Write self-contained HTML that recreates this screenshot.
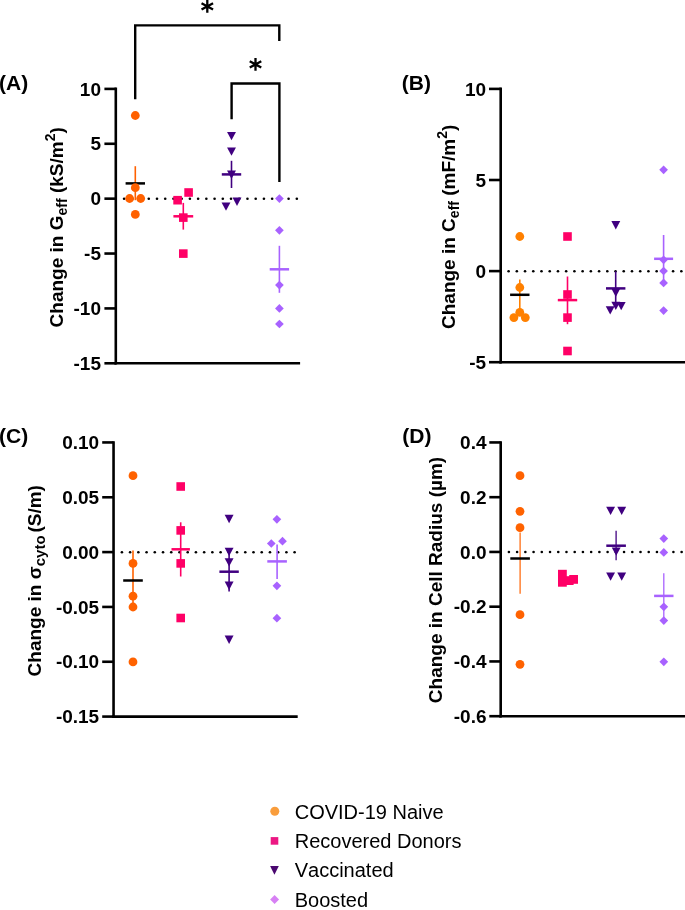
<!DOCTYPE html>
<html><head><meta charset="utf-8"><style>
html,body{margin:0;padding:0;background:#fff;}
svg{display:block;font-family:"Liberation Sans",sans-serif;will-change:transform;font-kerning:none;}
</style></head><body>
<svg width="685" height="910" viewBox="0 0 685 910">
<rect width="685" height="910" fill="#fff"/>
<line x1="115.80" y1="87.60" x2="115.80" y2="364.60" stroke="#000" stroke-width="2.6" stroke-linecap="butt"/>
<line x1="114.50" y1="363.30" x2="300.10" y2="363.30" stroke="#000" stroke-width="2.6" stroke-linecap="butt"/>
<line x1="104.40" y1="88.90" x2="115.80" y2="88.90" stroke="#000" stroke-width="2.6" stroke-linecap="butt"/>
<text x="101.00" y="95.60" font-size="19" font-weight="bold" text-anchor="end" >10</text>
<line x1="104.40" y1="143.78" x2="115.80" y2="143.78" stroke="#000" stroke-width="2.6" stroke-linecap="butt"/>
<text x="101.00" y="150.48" font-size="19" font-weight="bold" text-anchor="end" >5</text>
<line x1="104.40" y1="198.66" x2="115.80" y2="198.66" stroke="#000" stroke-width="2.6" stroke-linecap="butt"/>
<text x="101.00" y="205.36" font-size="19" font-weight="bold" text-anchor="end" >0</text>
<line x1="104.40" y1="253.54" x2="115.80" y2="253.54" stroke="#000" stroke-width="2.6" stroke-linecap="butt"/>
<text x="101.00" y="260.24" font-size="19" font-weight="bold" text-anchor="end" >-5</text>
<line x1="104.40" y1="308.42" x2="115.80" y2="308.42" stroke="#000" stroke-width="2.6" stroke-linecap="butt"/>
<text x="101.00" y="315.12" font-size="19" font-weight="bold" text-anchor="end" >-10</text>
<line x1="104.40" y1="363.30" x2="115.80" y2="363.30" stroke="#000" stroke-width="2.6" stroke-linecap="butt"/>
<text x="101.00" y="370.00" font-size="19" font-weight="bold" text-anchor="end" >-15</text>
<circle cx="124.10" cy="198.70" r="1.3" fill="#000"/>
<circle cx="132.32" cy="198.70" r="1.3" fill="#000"/>
<circle cx="140.55" cy="198.70" r="1.3" fill="#000"/>
<circle cx="148.77" cy="198.70" r="1.3" fill="#000"/>
<circle cx="157.00" cy="198.70" r="1.3" fill="#000"/>
<circle cx="165.22" cy="198.70" r="1.3" fill="#000"/>
<circle cx="173.45" cy="198.70" r="1.3" fill="#000"/>
<circle cx="181.67" cy="198.70" r="1.3" fill="#000"/>
<circle cx="189.90" cy="198.70" r="1.3" fill="#000"/>
<circle cx="198.12" cy="198.70" r="1.3" fill="#000"/>
<circle cx="206.35" cy="198.70" r="1.3" fill="#000"/>
<circle cx="214.57" cy="198.70" r="1.3" fill="#000"/>
<circle cx="222.80" cy="198.70" r="1.3" fill="#000"/>
<circle cx="231.02" cy="198.70" r="1.3" fill="#000"/>
<circle cx="239.25" cy="198.70" r="1.3" fill="#000"/>
<circle cx="247.47" cy="198.70" r="1.3" fill="#000"/>
<circle cx="255.70" cy="198.70" r="1.3" fill="#000"/>
<circle cx="263.92" cy="198.70" r="1.3" fill="#000"/>
<circle cx="272.15" cy="198.70" r="1.3" fill="#000"/>
<circle cx="280.37" cy="198.70" r="1.3" fill="#000"/>
<circle cx="288.60" cy="198.70" r="1.3" fill="#000"/>
<circle cx="296.82" cy="198.70" r="1.3" fill="#000"/>
<line x1="135.30" y1="166.20" x2="135.30" y2="200.20" stroke="#ff6100" stroke-width="1.6" stroke-linecap="butt"/>
<line x1="125.60" y1="183.40" x2="145.00" y2="183.40" stroke="#000" stroke-width="2.5" stroke-linecap="butt"/>
<circle cx="135.30" cy="115.50" r="4.4" fill="#ff6100"/>
<circle cx="135.30" cy="187.70" r="4.4" fill="#ff6100"/>
<circle cx="129.60" cy="198.50" r="4.4" fill="#ff6100"/>
<circle cx="140.70" cy="198.50" r="4.4" fill="#ff6100"/>
<circle cx="135.30" cy="214.40" r="4.4" fill="#ff6100"/>
<rect x="184.30" y="188.20" width="8.6" height="8.6" fill="#ff0066"/>
<rect x="173.30" y="195.90" width="8.6" height="8.6" fill="#ff0066"/>
<rect x="179.00" y="213.30" width="8.6" height="8.6" fill="#ff0066"/>
<rect x="179.00" y="249.30" width="8.6" height="8.6" fill="#ff0066"/>
<line x1="183.30" y1="202.90" x2="183.30" y2="229.60" stroke="#ff0066" stroke-width="1.6" stroke-linecap="butt"/>
<line x1="173.40" y1="216.30" x2="193.20" y2="216.30" stroke="#ff0066" stroke-width="2.5" stroke-linecap="butt"/>
<path d="M227.05,131.90H235.95L231.50,140.30Z" fill="#400080"/>
<path d="M227.05,147.40H235.95L231.50,155.80Z" fill="#400080"/>
<path d="M227.05,170.60H235.95L231.50,179.00Z" fill="#400080"/>
<path d="M232.55,197.50H241.45L237.00,205.90Z" fill="#400080"/>
<path d="M221.55,202.40H230.45L226.00,210.80Z" fill="#400080"/>
<line x1="231.50" y1="160.80" x2="231.50" y2="188.00" stroke="#400080" stroke-width="1.6" stroke-linecap="butt"/>
<line x1="221.80" y1="174.40" x2="241.20" y2="174.40" stroke="#400080" stroke-width="2.5" stroke-linecap="butt"/>
<path d="M279.40,194.25L283.75,198.60L279.40,202.95L275.05,198.60Z" fill="#a862ff"/>
<path d="M279.40,225.95L283.75,230.30L279.40,234.65L275.05,230.30Z" fill="#a862ff"/>
<path d="M279.40,280.75L283.75,285.10L279.40,289.45L275.05,285.10Z" fill="#a862ff"/>
<path d="M279.40,304.05L283.75,308.40L279.40,312.75L275.05,308.40Z" fill="#a862ff"/>
<path d="M279.40,319.65L283.75,324.00L279.40,328.35L275.05,324.00Z" fill="#a862ff"/>
<line x1="279.40" y1="245.80" x2="279.40" y2="292.80" stroke="#a862ff" stroke-width="1.6" stroke-linecap="butt"/>
<line x1="269.70" y1="269.30" x2="289.10" y2="269.30" stroke="#a862ff" stroke-width="2.5" stroke-linecap="butt"/>
<path d="M135.2,99.3V25.4H279.3V40.9" fill="none" stroke="#000" stroke-width="2.4"/>
<path d="M231.6,119.2V83.5H279.4V181.9" fill="none" stroke="#000" stroke-width="2.4"/>
<path d="M207.30,0.00V12.70M201.53,3.15L213.07,9.55M201.53,9.55L213.07,3.15" stroke="#000" stroke-width="2.3" fill="none"/>
<path d="M255.50,58.05V70.75M249.73,61.20L261.27,67.60M249.73,67.60L261.27,61.20" stroke="#000" stroke-width="2.3" fill="none"/>
<text x="-0.90" y="90.00" font-size="21" font-weight="bold" text-anchor="start" >(A)</text>
<text transform="translate(63,327.4) rotate(-90)" font-size="19" font-weight="bold">Change in G<tspan font-size="14" dy="4.1">eff</tspan><tspan dy="-4.1"> (kS/m</tspan><tspan font-size="14" dy="-8.1">2</tspan><tspan dy="8.1">)</tspan></text>
<line x1="500.70" y1="87.60" x2="500.70" y2="363.50" stroke="#000" stroke-width="2.6" stroke-linecap="butt"/>
<line x1="499.40" y1="362.20" x2="685.00" y2="362.20" stroke="#000" stroke-width="2.6" stroke-linecap="butt"/>
<line x1="489.00" y1="88.90" x2="500.70" y2="88.90" stroke="#000" stroke-width="2.6" stroke-linecap="butt"/>
<text x="486.20" y="95.60" font-size="19" font-weight="bold" text-anchor="end" >10</text>
<line x1="489.00" y1="180.00" x2="500.70" y2="180.00" stroke="#000" stroke-width="2.6" stroke-linecap="butt"/>
<text x="486.20" y="186.70" font-size="19" font-weight="bold" text-anchor="end" >5</text>
<line x1="489.00" y1="271.10" x2="500.70" y2="271.10" stroke="#000" stroke-width="2.6" stroke-linecap="butt"/>
<text x="486.20" y="277.80" font-size="19" font-weight="bold" text-anchor="end" >0</text>
<line x1="489.00" y1="362.20" x2="500.70" y2="362.20" stroke="#000" stroke-width="2.6" stroke-linecap="butt"/>
<text x="486.20" y="368.90" font-size="19" font-weight="bold" text-anchor="end" >-5</text>
<circle cx="508.60" cy="271.20" r="1.3" fill="#000"/>
<circle cx="516.83" cy="271.20" r="1.3" fill="#000"/>
<circle cx="525.05" cy="271.20" r="1.3" fill="#000"/>
<circle cx="533.28" cy="271.20" r="1.3" fill="#000"/>
<circle cx="541.50" cy="271.20" r="1.3" fill="#000"/>
<circle cx="549.73" cy="271.20" r="1.3" fill="#000"/>
<circle cx="557.95" cy="271.20" r="1.3" fill="#000"/>
<circle cx="566.18" cy="271.20" r="1.3" fill="#000"/>
<circle cx="574.40" cy="271.20" r="1.3" fill="#000"/>
<circle cx="582.63" cy="271.20" r="1.3" fill="#000"/>
<circle cx="590.85" cy="271.20" r="1.3" fill="#000"/>
<circle cx="599.08" cy="271.20" r="1.3" fill="#000"/>
<circle cx="607.30" cy="271.20" r="1.3" fill="#000"/>
<circle cx="615.53" cy="271.20" r="1.3" fill="#000"/>
<circle cx="623.75" cy="271.20" r="1.3" fill="#000"/>
<circle cx="631.98" cy="271.20" r="1.3" fill="#000"/>
<circle cx="640.20" cy="271.20" r="1.3" fill="#000"/>
<circle cx="648.43" cy="271.20" r="1.3" fill="#000"/>
<circle cx="656.65" cy="271.20" r="1.3" fill="#000"/>
<circle cx="664.88" cy="271.20" r="1.3" fill="#000"/>
<circle cx="673.10" cy="271.20" r="1.3" fill="#000"/>
<circle cx="681.33" cy="271.20" r="1.3" fill="#000"/>
<line x1="519.80" y1="279.40" x2="519.80" y2="310.50" stroke="#ff8000" stroke-width="1.6" stroke-linecap="butt"/>
<line x1="510.10" y1="294.80" x2="529.50" y2="294.80" stroke="#000" stroke-width="2.5" stroke-linecap="butt"/>
<circle cx="519.80" cy="236.50" r="4.4" fill="#ff8000"/>
<circle cx="519.80" cy="287.50" r="4.4" fill="#ff8000"/>
<circle cx="513.90" cy="317.60" r="4.4" fill="#ff8000"/>
<circle cx="519.80" cy="312.30" r="4.4" fill="#ff8000"/>
<circle cx="525.30" cy="317.60" r="4.4" fill="#ff8000"/>
<rect x="563.20" y="232.20" width="8.6" height="8.6" fill="#ff0066"/>
<rect x="563.20" y="290.20" width="8.6" height="8.6" fill="#ff0066"/>
<rect x="563.20" y="313.30" width="8.6" height="8.6" fill="#ff0066"/>
<rect x="563.20" y="346.70" width="8.6" height="8.6" fill="#ff0066"/>
<line x1="567.50" y1="276.50" x2="567.50" y2="324.20" stroke="#ff0066" stroke-width="1.6" stroke-linecap="butt"/>
<line x1="557.80" y1="300.10" x2="577.20" y2="300.10" stroke="#ff0066" stroke-width="2.5" stroke-linecap="butt"/>
<path d="M611.35,221.00H620.25L615.80,229.40Z" fill="#400080"/>
<path d="M611.35,288.60H620.25L615.80,297.00Z" fill="#400080"/>
<path d="M611.35,301.70H620.25L615.80,310.10Z" fill="#400080"/>
<path d="M616.75,301.90H625.65L621.20,310.30Z" fill="#400080"/>
<path d="M605.75,306.20H614.65L610.20,314.60Z" fill="#400080"/>
<line x1="615.70" y1="271.30" x2="615.70" y2="305.50" stroke="#400080" stroke-width="1.6" stroke-linecap="butt"/>
<line x1="606.00" y1="288.40" x2="625.40" y2="288.40" stroke="#400080" stroke-width="2.5" stroke-linecap="butt"/>
<path d="M663.60,165.45L667.95,169.80L663.60,174.15L659.25,169.80Z" fill="#a862ff"/>
<path d="M663.60,255.45L667.95,259.80L663.60,264.15L659.25,259.80Z" fill="#a862ff"/>
<path d="M663.60,266.65L667.95,271.00L663.60,275.35L659.25,271.00Z" fill="#a862ff"/>
<path d="M663.60,278.55L667.95,282.90L663.60,287.25L659.25,282.90Z" fill="#a862ff"/>
<path d="M663.60,306.25L667.95,310.60L663.60,314.95L659.25,310.60Z" fill="#a862ff"/>
<line x1="663.60" y1="235.00" x2="663.60" y2="282.60" stroke="#a862ff" stroke-width="1.6" stroke-linecap="butt"/>
<line x1="654.10" y1="258.80" x2="673.10" y2="258.80" stroke="#a862ff" stroke-width="2.5" stroke-linecap="butt"/>
<text x="401.80" y="89.70" font-size="21" font-weight="bold" text-anchor="start" >(B)</text>
<text transform="translate(454.7,329) rotate(-90)" font-size="19" font-weight="bold">Change in C<tspan font-size="14" dy="4.1">eff</tspan><tspan dy="-4.1"> (mF/m</tspan><tspan font-size="14" dy="-8.1">2</tspan><tspan dy="8.1">)</tspan></text>
<line x1="113.55" y1="441.14" x2="113.55" y2="717.89" stroke="#000" stroke-width="2.6" stroke-linecap="butt"/>
<line x1="112.25" y1="716.59" x2="297.70" y2="716.59" stroke="#000" stroke-width="2.6" stroke-linecap="butt"/>
<line x1="102.20" y1="442.44" x2="113.55" y2="442.44" stroke="#000" stroke-width="2.6" stroke-linecap="butt"/>
<text x="99.20" y="449.14" font-size="19" font-weight="bold" text-anchor="end" >0.10</text>
<line x1="102.20" y1="497.27" x2="113.55" y2="497.27" stroke="#000" stroke-width="2.6" stroke-linecap="butt"/>
<text x="99.20" y="503.97" font-size="19" font-weight="bold" text-anchor="end" >0.05</text>
<line x1="102.20" y1="552.10" x2="113.55" y2="552.10" stroke="#000" stroke-width="2.6" stroke-linecap="butt"/>
<text x="99.20" y="558.80" font-size="19" font-weight="bold" text-anchor="end" >0.00</text>
<line x1="102.20" y1="606.93" x2="113.55" y2="606.93" stroke="#000" stroke-width="2.6" stroke-linecap="butt"/>
<text x="99.20" y="613.63" font-size="19" font-weight="bold" text-anchor="end" >-0.05</text>
<line x1="102.20" y1="661.76" x2="113.55" y2="661.76" stroke="#000" stroke-width="2.6" stroke-linecap="butt"/>
<text x="99.20" y="668.46" font-size="19" font-weight="bold" text-anchor="end" >-0.10</text>
<line x1="102.20" y1="716.59" x2="113.55" y2="716.59" stroke="#000" stroke-width="2.6" stroke-linecap="butt"/>
<text x="99.20" y="723.29" font-size="19" font-weight="bold" text-anchor="end" >-0.15</text>
<circle cx="121.90" cy="552.20" r="1.3" fill="#000"/>
<circle cx="130.12" cy="552.20" r="1.3" fill="#000"/>
<circle cx="138.35" cy="552.20" r="1.3" fill="#000"/>
<circle cx="146.57" cy="552.20" r="1.3" fill="#000"/>
<circle cx="154.80" cy="552.20" r="1.3" fill="#000"/>
<circle cx="163.02" cy="552.20" r="1.3" fill="#000"/>
<circle cx="171.25" cy="552.20" r="1.3" fill="#000"/>
<circle cx="179.47" cy="552.20" r="1.3" fill="#000"/>
<circle cx="187.70" cy="552.20" r="1.3" fill="#000"/>
<circle cx="195.92" cy="552.20" r="1.3" fill="#000"/>
<circle cx="204.15" cy="552.20" r="1.3" fill="#000"/>
<circle cx="212.37" cy="552.20" r="1.3" fill="#000"/>
<circle cx="220.60" cy="552.20" r="1.3" fill="#000"/>
<circle cx="228.82" cy="552.20" r="1.3" fill="#000"/>
<circle cx="237.05" cy="552.20" r="1.3" fill="#000"/>
<circle cx="245.27" cy="552.20" r="1.3" fill="#000"/>
<circle cx="253.50" cy="552.20" r="1.3" fill="#000"/>
<circle cx="261.72" cy="552.20" r="1.3" fill="#000"/>
<circle cx="269.95" cy="552.20" r="1.3" fill="#000"/>
<circle cx="278.17" cy="552.20" r="1.3" fill="#000"/>
<circle cx="286.40" cy="552.20" r="1.3" fill="#000"/>
<circle cx="294.62" cy="552.20" r="1.3" fill="#000"/>
<line x1="133.00" y1="550.50" x2="133.00" y2="611.00" stroke="#ff6200" stroke-width="1.6" stroke-linecap="butt"/>
<line x1="123.20" y1="580.50" x2="142.80" y2="580.50" stroke="#000" stroke-width="2.5" stroke-linecap="butt"/>
<circle cx="133.00" cy="475.70" r="4.4" fill="#ff6200"/>
<circle cx="133.00" cy="563.40" r="4.4" fill="#ff6200"/>
<circle cx="133.00" cy="596.20" r="4.4" fill="#ff6200"/>
<circle cx="133.00" cy="607.00" r="4.4" fill="#ff6200"/>
<circle cx="133.00" cy="661.90" r="4.4" fill="#ff6200"/>
<rect x="176.40" y="482.20" width="8.6" height="8.6" fill="#ff0066"/>
<rect x="176.40" y="526.10" width="8.6" height="8.6" fill="#ff0066"/>
<rect x="176.40" y="559.10" width="8.6" height="8.6" fill="#ff0066"/>
<rect x="176.40" y="613.70" width="8.6" height="8.6" fill="#ff0066"/>
<line x1="180.70" y1="522.30" x2="180.70" y2="576.50" stroke="#ff0066" stroke-width="1.6" stroke-linecap="butt"/>
<line x1="171.50" y1="549.30" x2="189.90" y2="549.30" stroke="#ff0066" stroke-width="2.5" stroke-linecap="butt"/>
<path d="M224.65,514.80H233.55L229.10,523.20Z" fill="#400080"/>
<path d="M224.65,547.70H233.55L229.10,556.10Z" fill="#400080"/>
<path d="M224.65,558.20H233.55L229.10,566.60Z" fill="#400080"/>
<path d="M224.65,581.60H233.55L229.10,590.00Z" fill="#400080"/>
<path d="M224.65,635.60H233.55L229.10,644.00Z" fill="#400080"/>
<line x1="229.10" y1="551.70" x2="229.10" y2="591.40" stroke="#400080" stroke-width="1.6" stroke-linecap="butt"/>
<line x1="219.40" y1="571.70" x2="238.80" y2="571.70" stroke="#400080" stroke-width="2.5" stroke-linecap="butt"/>
<path d="M276.90,514.95L281.25,519.30L276.90,523.65L272.55,519.30Z" fill="#a862ff"/>
<path d="M271.30,539.15L275.65,543.50L271.30,547.85L266.95,543.50Z" fill="#a862ff"/>
<path d="M282.50,536.85L286.85,541.20L282.50,545.55L278.15,541.20Z" fill="#a862ff"/>
<path d="M276.90,581.45L281.25,585.80L276.90,590.15L272.55,585.80Z" fill="#a862ff"/>
<path d="M276.90,613.85L281.25,618.20L276.90,622.55L272.55,618.20Z" fill="#a862ff"/>
<line x1="277.10" y1="544.40" x2="277.10" y2="579.00" stroke="#a862ff" stroke-width="1.6" stroke-linecap="butt"/>
<line x1="267.30" y1="561.40" x2="286.90" y2="561.40" stroke="#a862ff" stroke-width="2.5" stroke-linecap="butt"/>
<text x="-0.90" y="442.80" font-size="21" font-weight="bold" text-anchor="start" >(C)</text>
<text transform="translate(41,676.4) rotate(-90)" font-size="19" font-weight="bold">Change in σ<tspan font-size="15" dy="4.1">cyto </tspan><tspan dy="-4.1" dx="-1.3">(S/m)</tspan></text>
<line x1="500.70" y1="441.14" x2="500.70" y2="717.50" stroke="#000" stroke-width="2.6" stroke-linecap="butt"/>
<line x1="499.40" y1="716.20" x2="685.00" y2="716.20" stroke="#000" stroke-width="2.6" stroke-linecap="butt"/>
<line x1="489.30" y1="442.44" x2="500.70" y2="442.44" stroke="#000" stroke-width="2.6" stroke-linecap="butt"/>
<text x="486.50" y="449.14" font-size="19" font-weight="bold" text-anchor="end" >0.4</text>
<line x1="489.30" y1="497.19" x2="500.70" y2="497.19" stroke="#000" stroke-width="2.6" stroke-linecap="butt"/>
<text x="486.50" y="503.89" font-size="19" font-weight="bold" text-anchor="end" >0.2</text>
<line x1="489.30" y1="551.94" x2="500.70" y2="551.94" stroke="#000" stroke-width="2.6" stroke-linecap="butt"/>
<text x="486.50" y="558.64" font-size="19" font-weight="bold" text-anchor="end" >0.0</text>
<line x1="489.30" y1="606.69" x2="500.70" y2="606.69" stroke="#000" stroke-width="2.6" stroke-linecap="butt"/>
<text x="486.50" y="613.39" font-size="19" font-weight="bold" text-anchor="end" >-0.2</text>
<line x1="489.30" y1="661.44" x2="500.70" y2="661.44" stroke="#000" stroke-width="2.6" stroke-linecap="butt"/>
<text x="486.50" y="668.14" font-size="19" font-weight="bold" text-anchor="end" >-0.4</text>
<line x1="489.30" y1="716.20" x2="500.70" y2="716.20" stroke="#000" stroke-width="2.6" stroke-linecap="butt"/>
<text x="486.50" y="722.90" font-size="19" font-weight="bold" text-anchor="end" >-0.6</text>
<circle cx="508.90" cy="552.00" r="1.3" fill="#000"/>
<circle cx="517.12" cy="552.00" r="1.3" fill="#000"/>
<circle cx="525.35" cy="552.00" r="1.3" fill="#000"/>
<circle cx="533.58" cy="552.00" r="1.3" fill="#000"/>
<circle cx="541.80" cy="552.00" r="1.3" fill="#000"/>
<circle cx="550.03" cy="552.00" r="1.3" fill="#000"/>
<circle cx="558.25" cy="552.00" r="1.3" fill="#000"/>
<circle cx="566.48" cy="552.00" r="1.3" fill="#000"/>
<circle cx="574.70" cy="552.00" r="1.3" fill="#000"/>
<circle cx="582.93" cy="552.00" r="1.3" fill="#000"/>
<circle cx="591.15" cy="552.00" r="1.3" fill="#000"/>
<circle cx="599.38" cy="552.00" r="1.3" fill="#000"/>
<circle cx="607.60" cy="552.00" r="1.3" fill="#000"/>
<circle cx="615.83" cy="552.00" r="1.3" fill="#000"/>
<circle cx="624.05" cy="552.00" r="1.3" fill="#000"/>
<circle cx="632.28" cy="552.00" r="1.3" fill="#000"/>
<circle cx="640.50" cy="552.00" r="1.3" fill="#000"/>
<circle cx="648.73" cy="552.00" r="1.3" fill="#000"/>
<circle cx="656.95" cy="552.00" r="1.3" fill="#000"/>
<circle cx="665.18" cy="552.00" r="1.3" fill="#000"/>
<circle cx="673.40" cy="552.00" r="1.3" fill="#000"/>
<circle cx="681.63" cy="552.00" r="1.3" fill="#000"/>
<line x1="520.10" y1="532.50" x2="520.10" y2="593.70" stroke="#ff6200" stroke-width="1.2" stroke-linecap="butt"/>
<line x1="510.30" y1="558.50" x2="529.90" y2="558.50" stroke="#000" stroke-width="2.5" stroke-linecap="butt"/>
<circle cx="520.00" cy="475.70" r="4.4" fill="#ff6200"/>
<circle cx="520.00" cy="511.30" r="4.4" fill="#ff6200"/>
<circle cx="520.00" cy="527.70" r="4.4" fill="#ff6200"/>
<circle cx="520.00" cy="614.70" r="4.4" fill="#ff6200"/>
<circle cx="520.00" cy="664.30" r="4.4" fill="#ff6200"/>
<rect x="558.00" y="569.80" width="8.8" height="8.8" fill="#ff0066"/>
<rect x="558.00" y="577.90" width="8.8" height="8.8" fill="#ff0066"/>
<rect x="569.20" y="575.00" width="8.8" height="8.8" fill="#ff0066"/>
<rect x="564.80" y="576.20" width="8.8" height="8.8" fill="#ff0066"/>
<line x1="616.10" y1="530.80" x2="616.10" y2="560.20" stroke="#400080" stroke-width="1.3" stroke-linecap="butt"/>
<line x1="606.30" y1="545.70" x2="625.90" y2="545.70" stroke="#400080" stroke-width="2.5" stroke-linecap="butt"/>
<path d="M606.15,506.70H615.05L610.60,515.10Z" fill="#400080"/>
<path d="M617.25,506.70H626.15L621.70,515.10Z" fill="#400080"/>
<path d="M611.75,547.40H620.65L616.20,555.80Z" fill="#400080"/>
<path d="M606.15,572.40H615.05L610.60,580.80Z" fill="#400080"/>
<path d="M617.25,572.40H626.15L621.70,580.80Z" fill="#400080"/>
<path d="M663.80,534.25L668.15,538.60L663.80,542.95L659.45,538.60Z" fill="#a862ff"/>
<path d="M663.80,548.05L668.15,552.40L663.80,556.75L659.45,552.40Z" fill="#a862ff"/>
<path d="M663.80,602.45L668.15,606.80L663.80,611.15L659.45,606.80Z" fill="#a862ff"/>
<path d="M663.80,616.25L668.15,620.60L663.80,624.95L659.45,620.60Z" fill="#a862ff"/>
<path d="M663.80,657.45L668.15,661.80L663.80,666.15L659.45,661.80Z" fill="#a862ff"/>
<line x1="663.80" y1="573.20" x2="663.80" y2="618.60" stroke="#a862ff" stroke-width="1.3" stroke-linecap="butt"/>
<line x1="654.10" y1="595.90" x2="673.50" y2="595.90" stroke="#a862ff" stroke-width="2.5" stroke-linecap="butt"/>
<text x="402.30" y="443.10" font-size="21" font-weight="bold" text-anchor="start" >(D)</text>
<text transform="translate(441.8,703.2) rotate(-90)" font-size="19" font-weight="bold">Change in Cell Radius (µm)</text>
<circle cx="274.80" cy="811.30" r="4.5" fill="#f99d3c"/>
<rect x="270.70" y="837.10" width="7.6" height="7.6" fill="#ec1783"/>
<path d="M270.10,865.90H278.80L274.45,874.70Z" fill="#4a0870"/>
<path d="M274.60,895.05L279.05,899.50L274.60,903.95L270.15,899.50Z" fill="#d780f4"/>
<text x="294.70" y="818.50" font-size="20" font-weight="normal" text-anchor="start" fill="#000">COVID-19 Naive</text>
<text x="294.70" y="848.00" font-size="20" font-weight="normal" text-anchor="start" fill="#000">Recovered Donors</text>
<text x="294.70" y="877.30" font-size="20" font-weight="normal" text-anchor="start" fill="#000">Vaccinated</text>
<text x="294.70" y="906.70" font-size="20" font-weight="normal" text-anchor="start" fill="#000">Boosted</text>
</svg>
</body></html>
